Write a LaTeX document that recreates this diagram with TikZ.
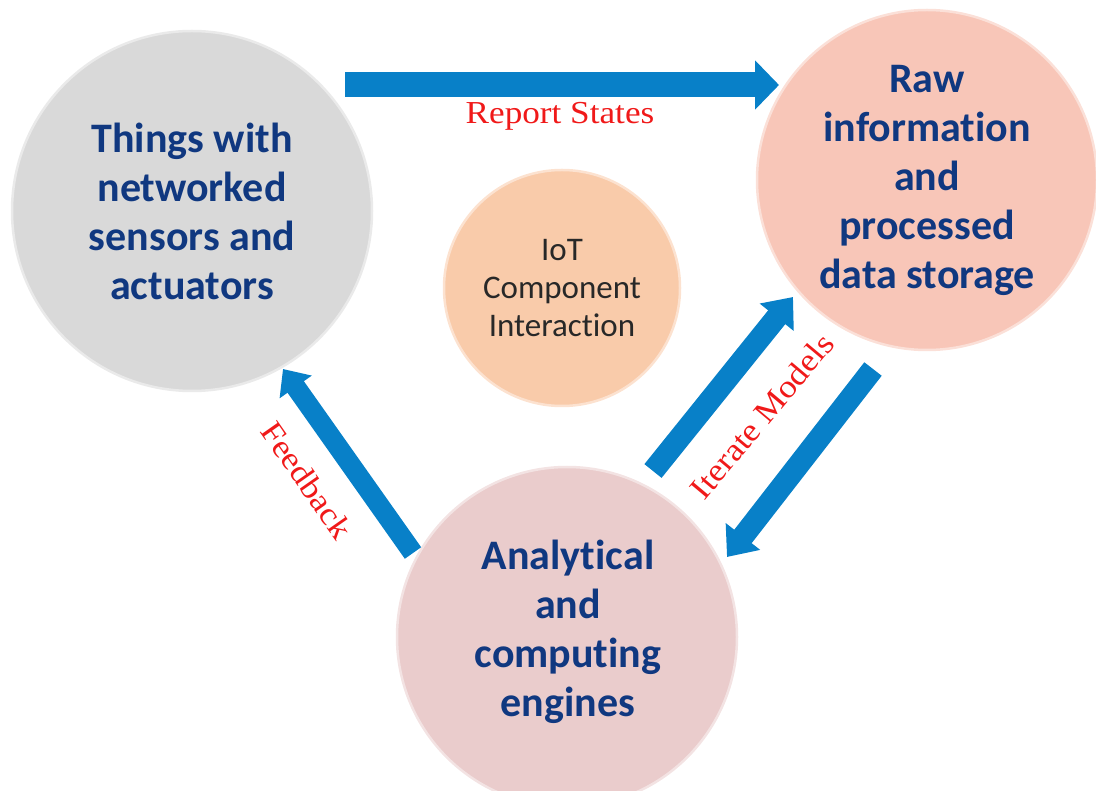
\documentclass[tikz,border=0pt]{standalone}
\usepackage{fontspec}
\setmainfont[Ligatures=NoCommon]{Carlito}
\newfontfamily\redfont[FakeStretch=1.1]{Liberation Serif}
\usetikzlibrary{arrows.meta}
\definecolor{arrowblue}{RGB}{8,128,200}
\definecolor{navytext}{RGB}{16,56,128}
\definecolor{grayfill}{RGB}{217,217,217}
\definecolor{rawfill}{RGB}{248,198,184}
\definecolor{anafill}{RGB}{234,204,204}
\definecolor{iotfill}{RGB}{249,203,170}
\definecolor{redlabel}{RGB}{240,25,25}
\definecolor{iottext}{RGB}{40,40,40}
\begin{document}
\begin{tikzpicture}[x=1pt,y=-1pt,
  bubble/.style={circle, inner sep=0pt, minimum size=#1, align=center},
  bigtext/.style={text=navytext, font=\fontsize{42}{49}\selectfont\bfseries},
  barrow/.style n args={3}{draw=arrowblue, line width=#1, -{Triangle[width=#2,length=#3]}},
  redtext/.style={text=redlabel, font=\redfont\fontsize{32}{36}\selectfont}
]
\useasboundingbox (0,0) rectangle (1096,791);
\clip (0,0) rectangle (1096,791);

\node[bubble=360pt, fill=grayfill, draw=grayfill!55!white, line width=2.5pt, bigtext] (things) at (192,211)
  {Things with\\networked\\sensors and\\actuators};
\node[bubble=340pt, fill=rawfill, draw=rawfill!55!white, line width=2.5pt, bigtext] (raw) at (927,180)
  {Raw\\informat\kern0pt ion\\and\\processed\\data storage};
\node[bubble=340pt, fill=anafill, draw=anafill!55!white, line width=2.5pt, bigtext] (ana) at (567,637) {};
\node[text=navytext, font=\fontsize{42}{49}\selectfont\bfseries, align=center] (anatext) at (568,632)
  {Analytical\\and\\computing\\engines};
\node[bubble=236pt, fill=iotfill, draw=iotfill!55!white, line width=2.5pt,
  text=iottext, font=\fontsize{33}{38}\selectfont] (iot) at (562,288)
  {IoT\\Component\\Interact\kern0pt ion};

% Report States arrow
\coordinate (rsA) at (345,85);
\coordinate (rsB) at (779,85);
\draw[barrow={25pt}{48pt}{24pt}] (rsA) -- (rsB);
\node[redtext] (rslabel) at (560,116) {Report States};

% Feedback arrow
\coordinate (fbA) at (413,553);
\coordinate (fbB) at (283,369);
\draw[barrow={20pt}{38pt}{22pt}] (fbA) -- (fbB);
\node[redtext, rotate=-55] (fblabel) at (307,480) {Feedback};

% Iterate arrows
\coordinate (upA) at (653,471);
\coordinate (upB) at (793,297);
\draw[barrow={22pt}{42pt}{26pt}] (upA) -- (upB);
\coordinate (dnA) at (873,369);
\coordinate (dnB) at (727,557);
\draw[barrow={22pt}{42pt}{26pt}] (dnA) -- (dnB);
\node[redtext, rotate=50] (itlabel) at (762,416) {Iterate Models};
\end{tikzpicture}
\end{document}
